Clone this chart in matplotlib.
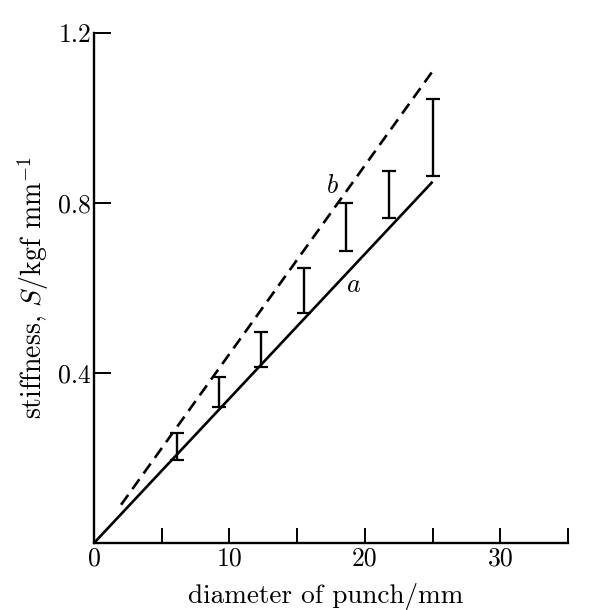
import matplotlib
matplotlib.use("Agg")
import matplotlib.pyplot as plt

# punch diameter (mm) and measured stiffness ranges (kgf/mm)
diam = [6.1, 9.2, 12.3, 15.5, 18.6, 21.8, 25.0]
s_low = [0.195, 0.32, 0.414, 0.541, 0.687, 0.765, 0.864]
s_high = [0.259, 0.39, 0.496, 0.647, 0.80, 0.875, 1.045]

# theoretical lines
a_x = [0, 25]
a_y = [0, 0.85]
b_x = [2, 25]
b_y = [0.09, 1.11]

xticks = [0, 5, 10, 15, 20, 25, 30, 35]
xlabels = ["0", "", "10", "", "20", "", "30", ""]
yticks = [0.4, 0.8, 1.2]
ylabels = ["0.4", "0.8", "1.2"]

plt.rcParams["font.family"] = "cmr10"
plt.rcParams["mathtext.fontset"] = "cm"
plt.rcParams["axes.formatter.use_mathtext"] = True

fig = plt.figure(figsize=(6.03, 6.10), dpi=100)
ax = fig.add_axes([94 / 603, 67 / 610, 474 / 603, 510 / 610])

ax.plot(a_x, a_y, color="black", lw=1.9, solid_capstyle="butt")
ax.plot(b_x, b_y, color="black", lw=1.9, linestyle=(0, (4.6, 2.7)))

mid = [(lo + hi) / 2 for lo, hi in zip(s_low, s_high)]
err = [(hi - lo) / 2 for lo, hi in zip(s_low, s_high)]
ax.errorbar(diam, mid, yerr=err, fmt="none", ecolor="black",
            elinewidth=1.7, capsize=4.7, capthick=1.6)

ax.text(17.6, 0.84, "$b$", fontsize=19, ha="center", va="center")
ax.text(19.2, 0.607, "$a$", fontsize=19, ha="center", va="center")

ax.set_xlim(0, 35)
ax.set_ylim(0, 1.2)
ax.set_xticks(xticks)
ax.set_xticklabels(xlabels)
ax.set_yticks(yticks)
ax.set_yticklabels(ylabels)

for side in ["top", "right"]:
    ax.spines[side].set_visible(False)
for side in ["left", "bottom"]:
    ax.spines[side].set_linewidth(1.7)

ax.tick_params(axis="x", direction="in", length=11, width=1.4, labelsize=18.5, pad=3)
ax.tick_params(axis="y", direction="in", length=12, width=1.4, labelsize=18.5, pad=2)

ax.set_xlabel("diameter of punch/mm", fontsize=19.6)
ax.set_ylabel(r"stiffness, $S$/kgf mm$^{-1}$", fontsize=20)
ax.xaxis.set_label_coords(0.488, -0.078)
ax.yaxis.set_label_coords(-0.09, 0.50)

fig.savefig("out.png", dpi=100)
